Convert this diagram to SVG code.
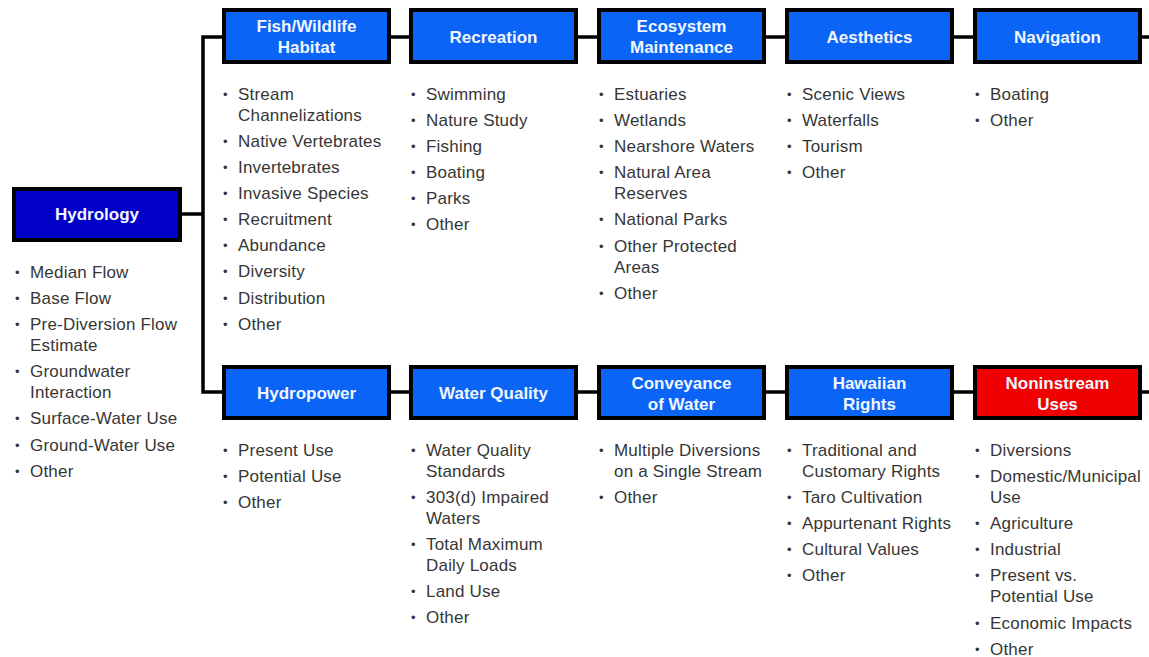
<svg xmlns="http://www.w3.org/2000/svg" width="1149" height="657" viewBox="0 0 1149 657">
<style>
.box{fill:#0a64f5;stroke:#000;stroke-width:4}
.dark{fill:#0000c8}
.red{fill:#f00000}
.bt{font-family:"Liberation Sans",Arial,sans-serif;font-weight:bold;font-size:17px;fill:#f2f6ff;text-anchor:middle}
.li{font-family:"Liberation Sans",Arial,sans-serif;font-size:17px;fill:#363636;letter-spacing:0.2px}
.b{font-size:13px}
.conn{fill:none;stroke:#000;stroke-width:3.5}
</style>
<rect width="1149" height="657" fill="#fff"/>
<g id="connectors">
<path class="conn" d="M222 37H203V392H222M182 214H203"/>
<path class="conn" d="M391 37H409M578 37H597M766 37H785M954 37H973M1142 37H1149"/>
<path class="conn" d="M391 392H409M578 392H597M766 392H785M954 392H973M1142 392H1149"/>
</g>
<g id="hydrology">
<rect class="box dark" x="14" y="189" width="166" height="51"/>
<text class="bt" x="97" y="220">Hydrology</text>
<text class="li"><tspan class="b" x="15" y="277">•</tspan><tspan x="30" y="278">Median Flow</tspan><tspan class="b" x="15" y="303">•</tspan><tspan x="30" y="304">Base Flow</tspan><tspan class="b" x="15" y="329">•</tspan><tspan x="30" y="330">Pre-Diversion Flow</tspan><tspan x="30" y="351">Estimate</tspan><tspan class="b" x="15" y="376">•</tspan><tspan x="30" y="377">Groundwater</tspan><tspan x="30" y="398">Interaction</tspan><tspan class="b" x="15" y="423">•</tspan><tspan x="30" y="424">Surface-Water Use</tspan><tspan class="b" x="15" y="450">•</tspan><tspan x="30" y="451">Ground-Water Use</tspan><tspan class="b" x="15" y="476">•</tspan><tspan x="30" y="477">Other</tspan></text>
</g>
<g id="fish">
<rect class="box" x="224" y="10" width="165" height="52"/>
<text class="bt" x="306.5" y="32">Fish/Wildlife</text>
<text class="bt" x="306.5" y="53">Habitat</text>
<text class="li"><tspan class="b" x="223" y="99">•</tspan><tspan x="238" y="100">Stream</tspan><tspan x="238" y="121">Channelizations</tspan><tspan class="b" x="223" y="146">•</tspan><tspan x="238" y="147">Native Vertebrates</tspan><tspan class="b" x="223" y="172">•</tspan><tspan x="238" y="173">Invertebrates</tspan><tspan class="b" x="223" y="198">•</tspan><tspan x="238" y="199">Invasive Species</tspan><tspan class="b" x="223" y="224">•</tspan><tspan x="238" y="225">Recruitment</tspan><tspan class="b" x="223" y="250">•</tspan><tspan x="238" y="251">Abundance</tspan><tspan class="b" x="223" y="276">•</tspan><tspan x="238" y="277">Diversity</tspan><tspan class="b" x="223" y="303">•</tspan><tspan x="238" y="304">Distribution</tspan><tspan class="b" x="223" y="329">•</tspan><tspan x="238" y="330">Other</tspan></text>
</g>
<g id="recreation">
<rect class="box" x="411" y="10" width="165" height="52"/>
<text class="bt" x="493.5" y="43">Recreation</text>
<text class="li"><tspan class="b" x="411" y="99">•</tspan><tspan x="426" y="100">Swimming</tspan><tspan class="b" x="411" y="125">•</tspan><tspan x="426" y="126">Nature Study</tspan><tspan class="b" x="411" y="151">•</tspan><tspan x="426" y="152">Fishing</tspan><tspan class="b" x="411" y="177">•</tspan><tspan x="426" y="178">Boating</tspan><tspan class="b" x="411" y="203">•</tspan><tspan x="426" y="204">Parks</tspan><tspan class="b" x="411" y="229">•</tspan><tspan x="426" y="230">Other</tspan></text>
</g>
<g id="ecosystem">
<rect class="box" x="599" y="10" width="165" height="52"/>
<text class="bt" x="681.5" y="32">Ecosystem</text>
<text class="bt" x="681.5" y="53">Maintenance</text>
<text class="li"><tspan class="b" x="599" y="99">•</tspan><tspan x="614" y="100">Estuaries</tspan><tspan class="b" x="599" y="125">•</tspan><tspan x="614" y="126">Wetlands</tspan><tspan class="b" x="599" y="151">•</tspan><tspan x="614" y="152">Nearshore Waters</tspan><tspan class="b" x="599" y="177">•</tspan><tspan x="614" y="178">Natural Area</tspan><tspan x="614" y="199">Reserves</tspan><tspan class="b" x="599" y="224">•</tspan><tspan x="614" y="225">National Parks</tspan><tspan class="b" x="599" y="251">•</tspan><tspan x="614" y="252">Other Protected</tspan><tspan x="614" y="273">Areas</tspan><tspan class="b" x="599" y="298">•</tspan><tspan x="614" y="299">Other</tspan></text>
</g>
<g id="aesthetics">
<rect class="box" x="787" y="10" width="165" height="52"/>
<text class="bt" x="869.5" y="43">Aesthetics</text>
<text class="li"><tspan class="b" x="787" y="99">•</tspan><tspan x="802" y="100">Scenic Views</tspan><tspan class="b" x="787" y="125">•</tspan><tspan x="802" y="126">Waterfalls</tspan><tspan class="b" x="787" y="151">•</tspan><tspan x="802" y="152">Tourism</tspan><tspan class="b" x="787" y="177">•</tspan><tspan x="802" y="178">Other</tspan></text>
</g>
<g id="navigation">
<rect class="box" x="975" y="10" width="165" height="52"/>
<text class="bt" x="1057.5" y="43">Navigation</text>
<text class="li"><tspan class="b" x="975" y="99">•</tspan><tspan x="990" y="100">Boating</tspan><tspan class="b" x="975" y="125">•</tspan><tspan x="990" y="126">Other</tspan></text>
</g>
<g id="hydropower">
<rect class="box" x="224" y="367" width="165" height="51"/>
<text class="bt" x="306.5" y="399">Hydropower</text>
<text class="li"><tspan class="b" x="223" y="455">•</tspan><tspan x="238" y="456">Present Use</tspan><tspan class="b" x="223" y="481">•</tspan><tspan x="238" y="482">Potential Use</tspan><tspan class="b" x="223" y="507">•</tspan><tspan x="238" y="508">Other</tspan></text>
</g>
<g id="water-quality">
<rect class="box" x="411" y="367" width="165" height="51"/>
<text class="bt" x="493.5" y="399">Water Quality</text>
<text class="li"><tspan class="b" x="411" y="455">•</tspan><tspan x="426" y="456">Water Quality</tspan><tspan x="426" y="477">Standards</tspan><tspan class="b" x="411" y="502">•</tspan><tspan x="426" y="503">303(d) Impaired</tspan><tspan x="426" y="524">Waters</tspan><tspan class="b" x="411" y="549">•</tspan><tspan x="426" y="550">Total Maximum</tspan><tspan x="426" y="571">Daily Loads</tspan><tspan class="b" x="411" y="596">•</tspan><tspan x="426" y="597">Land Use</tspan><tspan class="b" x="411" y="622">•</tspan><tspan x="426" y="623">Other</tspan></text>
</g>
<g id="conveyance">
<rect class="box" x="599" y="367" width="165" height="51"/>
<text class="bt" x="681.5" y="389">Conveyance</text>
<text class="bt" x="681.5" y="410">of Water</text>
<text class="li"><tspan class="b" x="599" y="455">•</tspan><tspan x="614" y="456">Multiple Diversions</tspan><tspan x="614" y="477">on a Single Stream</tspan><tspan class="b" x="599" y="502">•</tspan><tspan x="614" y="503">Other</tspan></text>
</g>
<g id="hawaiian-rights">
<rect class="box" x="787" y="367" width="165" height="51"/>
<text class="bt" x="869.5" y="389">Hawaiian</text>
<text class="bt" x="869.5" y="410">Rights</text>
<text class="li"><tspan class="b" x="787" y="455">•</tspan><tspan x="802" y="456">Traditional and</tspan><tspan x="802" y="477">Customary Rights</tspan><tspan class="b" x="787" y="502">•</tspan><tspan x="802" y="503">Taro Cultivation</tspan><tspan class="b" x="787" y="528">•</tspan><tspan x="802" y="529">Appurtenant Rights</tspan><tspan class="b" x="787" y="554">•</tspan><tspan x="802" y="555">Cultural Values</tspan><tspan class="b" x="787" y="580">•</tspan><tspan x="802" y="581">Other</tspan></text>
</g>
<g id="noninstream">
<rect class="box red" x="975" y="367" width="165" height="51"/>
<text class="bt" x="1057.5" y="389">Noninstream</text>
<text class="bt" x="1057.5" y="410">Uses</text>
<text class="li"><tspan class="b" x="975" y="455">•</tspan><tspan x="990" y="456">Diversions</tspan><tspan class="b" x="975" y="481">•</tspan><tspan x="990" y="482">Domestic/Municipal</tspan><tspan x="990" y="503">Use</tspan><tspan class="b" x="975" y="528">•</tspan><tspan x="990" y="529">Agriculture</tspan><tspan class="b" x="975" y="554">•</tspan><tspan x="990" y="555">Industrial</tspan><tspan class="b" x="975" y="580">•</tspan><tspan x="990" y="581">Present vs.</tspan><tspan x="990" y="602">Potential Use</tspan><tspan class="b" x="975" y="628">•</tspan><tspan x="990" y="629">Economic Impacts</tspan><tspan class="b" x="975" y="654">•</tspan><tspan x="990" y="655">Other</tspan></text>
</g>
</svg>
